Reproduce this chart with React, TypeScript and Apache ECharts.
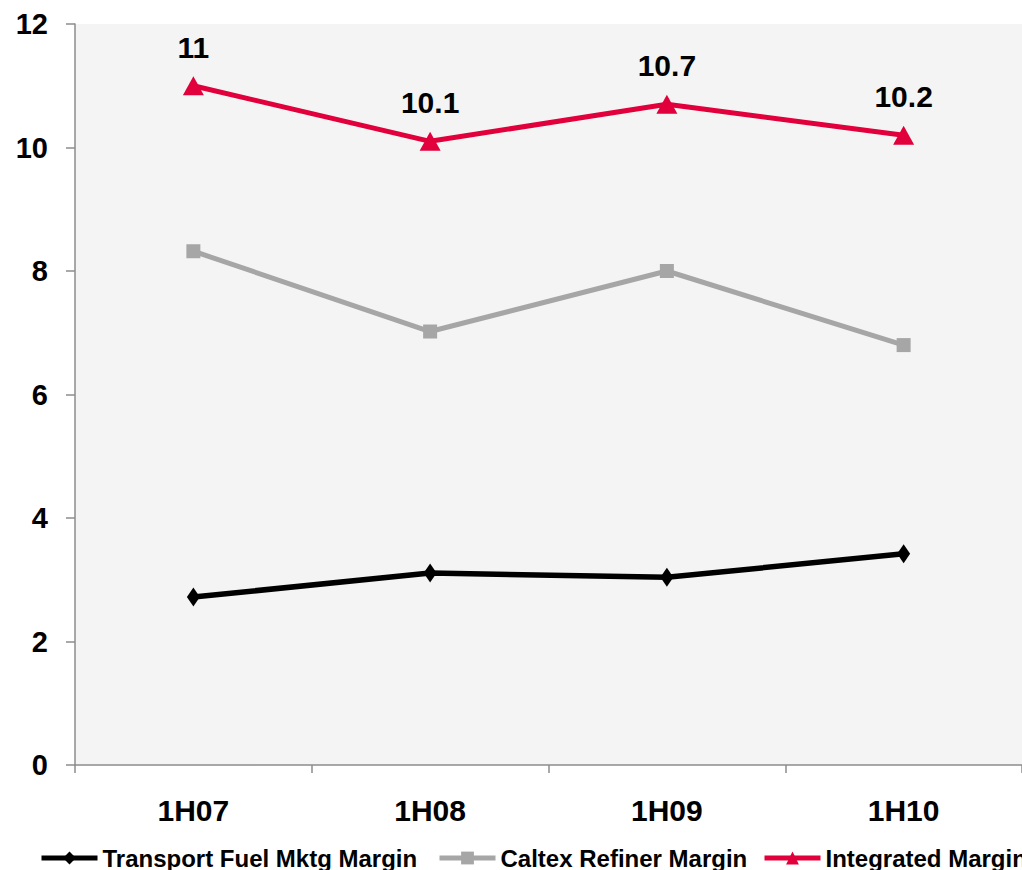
import React, { useEffect, useRef } from "react";
import * as echarts from "echarts";

const categories = ["1H07", "1H08", "1H09", "1H10"];
const transportFuel = [2.72, 3.11, 3.04, 3.42];
const caltexRefiner = [8.32, 7.02, 8.0, 6.8];
const integrated = [11, 10.1, 10.7, 10.2];
const seriesNames = ["Transport Fuel Mktg Margin", "Caltex Refiner Margin", "Integrated Margin"];

const FONT = "'Liberation Sans', Arial, sans-serif";
const RED = "#e1003b";
const GREY = "#a6a6a6";
const AXIS = "#8c8c8c";

export default function App() {
  const ref = useRef<HTMLDivElement>(null);

  useEffect(() => {
    if (!ref.current) return;
    const chart = echarts.init(ref.current, undefined, { renderer: "svg" });
    const legendText = { fontFamily: FONT, fontWeight: "bold" as const, fontSize: 24, color: "#000" };
    const legendBase = {
      top: 841,
      itemWidth: 56,
      itemHeight: 16,
      textStyle: legendText,
      lineStyle: { width: 5 },
    };
    chart.setOption({
      animation: false,
      backgroundColor: "#ffffff",
      grid: {
        left: 75,
        top: 24,
        width: 950,
        height: 741,
        show: true,
        backgroundColor: "#f4f4f4",
        borderWidth: 0,
      },
      legend: [
        { ...legendBase, data: [seriesNames[0]], left: 34 },
        { ...legendBase, data: [seriesNames[1]], left: 432 },
        { ...legendBase, data: [seriesNames[2]], left: 757 },
      ],
      xAxis: {
        type: "category",
        data: categories,
        boundaryGap: true,
        axisLine: { show: true, lineStyle: { color: AXIS, width: 1.5 } },
        axisTick: { show: true, length: 8, lineStyle: { color: AXIS, width: 1.5 } },
        axisLabel: { fontFamily: FONT, fontWeight: "bold", fontSize: 30, color: "#000", margin: 30 },
        splitLine: { show: false },
      },
      yAxis: {
        type: "value",
        min: 0,
        max: 12,
        interval: 2,
        axisLine: { show: true, lineStyle: { color: AXIS, width: 1.5 } },
        axisTick: { show: true, length: 9, lineStyle: { color: AXIS, width: 1.5 } },
        axisLabel: { fontFamily: FONT, fontWeight: "bold", fontSize: 29, color: "#000", margin: 27 },
        splitLine: { show: false },
      },
      series: [
        {
          name: seriesNames[0],
          type: "line",
          data: transportFuel,
          symbol: "diamond",
          symbolSize: [13, 19],
          lineStyle: { color: "#000", width: 5.5 },
          itemStyle: { color: "#000" },
        },
        {
          name: seriesNames[1],
          type: "line",
          data: caltexRefiner,
          symbol: "rect",
          symbolSize: 14,
          lineStyle: { color: GREY, width: 5 },
          itemStyle: { color: GREY },
        },
        {
          name: seriesNames[2],
          type: "line",
          data: integrated,
          symbol: "triangle",
          symbolSize: [21, 19],
          lineStyle: { color: RED, width: 5 },
          itemStyle: { color: RED },
          label: {
            show: true,
            position: "top",
            distance: 14,
            fontFamily: FONT,
            fontWeight: "bold",
            fontSize: 30,
            color: "#000",
          },
        },
      ],
    });
    return () => chart.dispose();
  }, []);

  return (
    <div
      ref={ref}
      style={{ position: "absolute", left: 0, top: 0, width: 1022, height: 870 }}
    />
  );
}
